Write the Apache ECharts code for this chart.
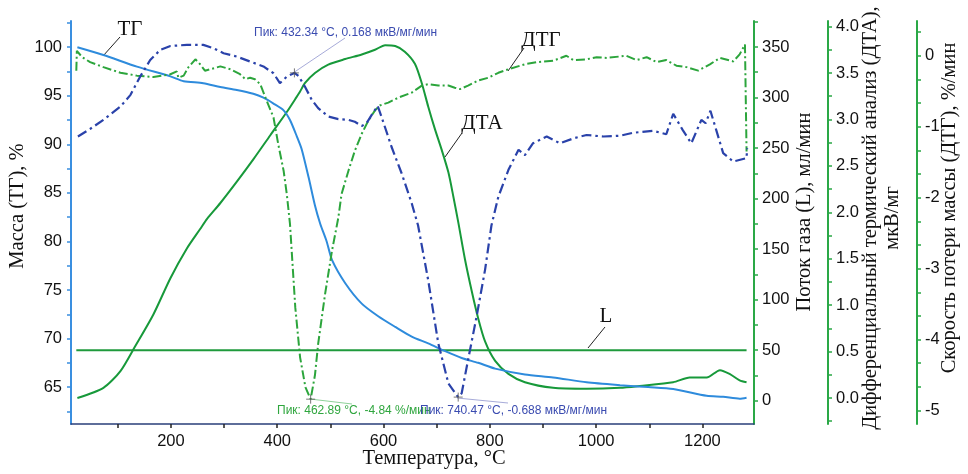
<!DOCTYPE html>
<html>
<head>
<meta charset="utf-8">
<script src="https://cdn.jsdelivr.net/npm/echarts@6.0.0/dist/echarts.min.js"></script>
<style>
html,body{margin:0;padding:0;background:#fff;}
#chart{width:968px;height:474px;}
</style>
</head>
<body>
<div id="chart"></div>
<script>
// ---------- DATA ----------
// ТГ: температура (°C) / масса (%)
var tgT    = [24, 73, 136, 199, 224, 261, 293, 324, 355, 374, 393, 412, 424, 437, 446, 459, 471, 481, 493, 503, 528, 559, 590, 622, 653, 684, 716, 747, 778, 810, 866, 919, 982, 1045, 1098, 1145, 1208, 1239, 1270, 1283];
var tgMass = [100.0, 99.2, 98.0, 97.0, 96.5, 96.3, 95.9, 95.6, 95.2, 94.8, 94.2, 93.5, 92.5, 90.8, 89.5, 86.6, 83.7, 81.8, 80.0, 78.1, 75.7, 73.6, 72.3, 71.2, 70.2, 69.5, 68.7, 68.0, 67.5, 66.9, 66.3, 66.0, 65.5, 65.2, 65.0, 64.8, 64.1, 64.0, 63.8, 63.9];

// ДТА: мкВ/мг
var dtaT   = [24, 73, 105, 133, 167, 199, 230, 255, 268, 293, 324, 355, 387, 418, 434, 443, 452, 471, 496, 528, 559, 584, 603, 622, 640, 659, 672, 684, 697, 709, 722, 731, 741, 753, 766, 778, 791, 810, 835, 866, 919, 982, 1045, 1082, 1145, 1176, 1208, 1233, 1251, 1270, 1283];
var dtaVal = [0.00, 0.11, 0.29, 0.56, 0.90, 1.29, 1.61, 1.82, 1.93, 2.10, 2.33, 2.57, 2.83, 3.08, 3.22, 3.30, 3.39, 3.50, 3.59, 3.65, 3.70, 3.75, 3.80, 3.79, 3.73, 3.60, 3.39, 3.14, 2.89, 2.68, 2.43, 2.18, 1.88, 1.50, 1.15, 0.86, 0.61, 0.40, 0.26, 0.17, 0.11, 0.10, 0.11, 0.13, 0.17, 0.22, 0.22, 0.30, 0.26, 0.19, 0.17];

// ДТГ: %/мин
var dtgT   = [22, 23, 33, 48, 73, 105, 136, 167, 199, 211, 214, 224, 233, 246, 255, 264, 274, 293, 312, 330, 340, 349, 358, 368, 380, 393, 402, 412, 418, 424, 434, 443, 453, 462.89, 471, 477, 490, 503, 515, 521, 534, 546, 559, 571, 584, 593, 609, 628, 653, 672, 684, 703, 722, 734, 744, 759, 778, 797, 816, 835, 866, 888, 919, 944, 957, 982, 1001, 1020, 1045, 1057, 1076, 1095, 1114, 1132, 1151, 1170, 1192, 1214, 1233, 1258, 1270, 1280, 1283];
var dtgVal = [-0.21, 0.07, -0.02, -0.09, -0.16, -0.24, -0.28, -0.30, -0.26, -0.22, -0.31, -0.28, -0.16, -0.05, -0.12, -0.21, -0.19, -0.15, -0.19, -0.26, -0.33, -0.31, -0.33, -0.40, -0.63, -0.87, -1.25, -1.62, -1.95, -2.37, -3.55, -4.25, -4.67, -4.84, -4.50, -4.06, -3.36, -2.75, -2.28, -1.95, -1.62, -1.34, -1.10, -0.92, -0.77, -0.70, -0.66, -0.59, -0.52, -0.42, -0.40, -0.42, -0.42, -0.45, -0.47, -0.42, -0.35, -0.31, -0.24, -0.19, -0.12, -0.09, -0.07, 0.00, -0.06, -0.05, -0.02, -0.03, -0.01, 0.00, -0.06, -0.02, -0.09, -0.06, -0.14, -0.16, -0.21, -0.12, -0.03, -0.08, 0.02, 0.16, -1.35];

// производная ДТА: мкВ/мг/мин
var ddtaT   = [25, 48, 73, 105, 124, 142, 161, 180, 199, 230, 261, 280, 299, 324, 349, 374, 393, 405, 418, 432.34, 440, 452, 465, 477, 496, 515, 534, 546, 559, 568, 580, 589, 596, 615, 634, 653, 665, 684, 703, 722, 740.47, 747, 759, 775, 791, 803, 816, 835, 854, 857, 866, 881, 907, 932, 957, 982, 1014, 1045, 1070, 1107, 1132, 1145, 1163, 1179, 1198, 1206, 1215, 1226, 1239, 1258, 1283, 1284];
var ddtaVal = [0.000, 0.020, 0.044, 0.079, 0.110, 0.158, 0.202, 0.229, 0.239, 0.242, 0.242, 0.233, 0.220, 0.211, 0.198, 0.185, 0.167, 0.141, 0.158, 0.168, 0.160, 0.132, 0.097, 0.075, 0.053, 0.046, 0.044, 0.039, 0.028, 0.035, 0.062, 0.081, 0.053, -0.027, -0.097, -0.176, -0.235, -0.379, -0.546, -0.652, -0.688, -0.678, -0.590, -0.476, -0.352, -0.235, -0.159, -0.088, -0.035, -0.030, -0.049, -0.018, 0.000, -0.018, -0.005, 0.004, 0.000, 0.002, 0.010, 0.015, 0.006, 0.060, 0.017, -0.018, 0.044, 0.035, 0.068, 0.017, -0.044, -0.066, -0.057, -0.031];

// Поток газа L: мл/мин
var gasT   = [22, 1283];
var gasVal = [50, 50];

// Пики
var peakDdtaMaxT = 432.34, peakDdtaMaxV = 0.168;
var peakDtgT = 462.89, peakDtgV = -4.84;
var peakDdtaMinT = 740.47, peakDdtaMinV = -0.688;

// Деления осей
var xLabels   = [200, 400, 600, 800, 1000, 1200];
var xTicks    = [100, 200, 300, 400, 500, 600, 700, 800, 900, 1000, 1100, 1200];
var massLabels = [65, 70, 75, 80, 85, 90, 95, 100];
var massTicks  = [62.5, 65, 67.5, 70, 72.5, 75, 77.5, 80, 82.5, 85, 87.5, 90, 92.5, 95, 97.5, 100, 102.5];
var gasLabels = [0, 50, 100, 150, 200, 250, 300, 350];
var gasTicks  = [0, 25, 50, 75, 100, 125, 150, 175, 200, 225, 250, 275, 300, 325, 350, 375];
var dtaLabels = [0, 0.5, 1.0, 1.5, 2.0, 2.5, 3.0, 3.5, 4.0];
var dtaTicks  = [-0.25, 0, 0.25, 0.5, 0.75, 1.0, 1.25, 1.5, 1.75, 2.0, 2.25, 2.5, 2.75, 3.0, 3.25, 3.5, 3.75, 4.0];
var dtgLabels = [-5, -4, -3, -2, -1, 0];
var dtgTicks  = [-5, -4.6667, -4.3333, -4, -3.6667, -3.3333, -3, -2.6667, -2.3333, -2, -1.6667, -1.3333, -1, -0.6667, -0.3333, 0, 0.3333];

function zip(a, b) { return a.map(function (v, i) { return [v, b[i]]; }); }

var SANS = "'Liberation Sans', Arial, sans-serif";
var SERIF = "'Liberation Serif', 'Times New Roman', serif";
var GREEN_AX = '#2aa846';
var BLUE_AX = '#3a8fe0';
var NAME_FONT = '20.5px ' + SERIF;

function rightAxis(offset, min, max, ticks, labels, fmt) {
  return {
    type: 'value', position: 'right', offset: offset, min: min, max: max,
    splitLine: { show: false },
    axisLine: { show: true, onZero: false, lineStyle: { color: GREEN_AX, width: 2 } },
    axisTick: { show: true, inside: false, length: 4, customValues: ticks, lineStyle: { color: GREEN_AX, width: 1.5 } },
    axisLabel: { customValues: labels, margin: 8, color: '#111', fontFamily: SANS, fontSize: 16.5, formatter: fmt }
  };
}

var chart = echarts.init(document.getElementById('chart'), null, { renderer: 'canvas' });

var plus = 'path://M0,5L10,5M5,0L5,10';

var option = {
  backgroundColor: '#ffffff',
  animation: false,
  grid: { left: 71, right: 214, top: 21, bottom: 50, containLabel: false },
  xAxis: {
    type: 'value', min: 12, max: 1297,
    splitLine: { show: false },
    axisLine: { show: true, onZero: false, lineStyle: { color: '#2a3f7a', width: 1.5 } },
    axisTick: { show: true, inside: false, length: 4, customValues: xTicks, lineStyle: { color: '#222', width: 1.5 } },
    axisLabel: { customValues: xLabels, margin: 9, color: '#111', fontFamily: SANS, fontSize: 16.5, formatter: function (v) { return String(v); } }
  },
  yAxis: [
    {
      type: 'value', position: 'left', min: 61.2, max: 102.7,
      splitLine: { show: false },
      axisLine: { show: true, onZero: false, lineStyle: { color: BLUE_AX, width: 2 } },
      axisTick: { show: true, inside: false, length: 4, customValues: massTicks, lineStyle: { color: BLUE_AX, width: 1.5 } },
      axisLabel: { customValues: massLabels, margin: 9, color: '#111', fontFamily: SANS, fontSize: 16.5, formatter: function (v) { return String(v); } }
    },
    rightAxis(0, -23, 375.7, gasTicks, gasLabels, function (v) { return String(v); }),
    rightAxis(74, -0.28, 4.06, dtaTicks, dtaLabels, function (v) { return v.toFixed(1); }),
    rightAxis(163, -5.19, 0.49, dtgTicks, dtgLabels, function (v) { return String(Math.round(v)); }),
    { type: 'value', show: false, min: -0.759, max: 0.305 }
  ],
  series: [
    {
      name: 'L', type: 'line', yAxisIndex: 1, data: zip(gasT, gasVal), symbol: 'none',
      lineStyle: { color: '#1f9a3c', width: 2 }, z: 2
    },
    {
      name: 'ДТА', type: 'line', yAxisIndex: 2, data: zip(dtaT, dtaVal), symbol: 'none',
      smooth: 0.25,
      lineStyle: { color: '#17993a', width: 2 }, z: 3
    },
    {
      name: 'ТГ', type: 'line', yAxisIndex: 0, data: zip(tgT, tgMass), symbol: 'none',
      smooth: 0.25,
      lineStyle: { color: '#2e8bdc', width: 2 }, z: 4
    },
    {
      name: 'ДТГ', type: 'line', yAxisIndex: 3, data: zip(dtgT, dtgVal), symbol: 'none',
      lineStyle: { color: '#2ca53c', width: 2, type: [9, 3, 2, 3] }, z: 5
    },
    {
      name: 'ДДТА', type: 'line', yAxisIndex: 4, data: zip(ddtaT, ddtaVal), symbol: 'none',
      lineStyle: { color: '#2a42aa', width: 2.2, type: [10, 4, 2.5, 4] }, z: 6
    },
    {
      name: 'peaksBlue', type: 'scatter', yAxisIndex: 4,
      data: [[peakDdtaMaxT, peakDdtaMaxV], [peakDdtaMinT, peakDdtaMinV]],
      symbol: plus, symbolSize: 9,
      itemStyle: { color: 'rgba(0,0,0,0)', borderColor: '#555', borderWidth: 1 }, z: 8
    },
    {
      name: 'peakGreen', type: 'scatter', yAxisIndex: 3,
      data: [[peakDtgT, peakDtgV]],
      symbol: plus, symbolSize: 9,
      itemStyle: { color: 'rgba(0,0,0,0)', borderColor: '#555', borderWidth: 1 }, z: 8
    }
  ],
  graphic: [
    // curve labels
    { type: 'text', x: 130, y: 29, style: { text: 'ТГ', font: '21px ' + SERIF, fill: '#111', align: 'center', verticalAlign: 'middle' } },
    { type: 'text', x: 541, y: 40, style: { text: 'ДТГ', font: '21px ' + SERIF, fill: '#111', align: 'center', verticalAlign: 'middle' } },
    { type: 'text', x: 482, y: 123, style: { text: 'ДТА', font: '21px ' + SERIF, fill: '#111', align: 'center', verticalAlign: 'middle' } },
    { type: 'text', x: 606, y: 316, style: { text: 'L', font: '21px ' + SERIF, fill: '#111', align: 'center', verticalAlign: 'middle' } },
    { type: 'line', shape: { x1: 120, y1: 37, x2: 103, y2: 56 }, style: { stroke: '#222', lineWidth: 1 } },
    { type: 'line', shape: { x1: 524, y1: 48, x2: 508, y2: 71 }, style: { stroke: '#222', lineWidth: 1 } },
    { type: 'line', shape: { x1: 462, y1: 133, x2: 445, y2: 157 }, style: { stroke: '#222', lineWidth: 1 } },
    { type: 'line', shape: { x1: 605, y1: 327, x2: 588, y2: 348 }, style: { stroke: '#222', lineWidth: 1 } },
    // peak annotation lines
    { type: 'line', shape: { x1: 293, y1: 73, x2: 345, y2: 38 }, style: { stroke: '#a7abd9', lineWidth: 1 } },
    { type: 'line', shape: { x1: 310, y1: 399, x2: 352, y2: 404 }, style: { stroke: '#8fd29a', lineWidth: 1 } },
    { type: 'line', shape: { x1: 457, y1: 398, x2: 508, y2: 403 }, style: { stroke: '#a7abd9', lineWidth: 1 } },
    // peak labels
    { type: 'text', x: 254, y: 33, style: { text: 'Пик: 432.34 °C, 0.168 мкВ/мг/мин', font: '12px ' + SANS, fill: '#3a4bb0', align: 'left', verticalAlign: 'middle' } },
    { type: 'text', x: 277, y: 411, style: { text: 'Пик: 462.89 °C, -4.84 %/мин', font: '12px ' + SANS, fill: '#2fa63e', align: 'left', verticalAlign: 'middle' } },
    { type: 'text', x: 420, y: 411, style: { text: 'Пик: 740.47 °C, -0.688 мкВ/мг/мин', font: '12px ' + SANS, fill: '#3a4bb0', align: 'left', verticalAlign: 'middle' } },
    // axis names
    { type: 'text', x: 18, y: 206, rotation: Math.PI / 2, style: { text: 'Масса (ТГ), %', font: NAME_FONT, fill: '#111', align: 'center', verticalAlign: 'middle' } },
    { type: 'text', x: 434, y: 459, style: { text: 'Температура, °C', font: NAME_FONT, fill: '#111', align: 'center', verticalAlign: 'middle' } },
    { type: 'text', x: 805, y: 212, rotation: Math.PI / 2, style: { text: 'Поток газа (L), мл/мин', font: NAME_FONT, fill: '#111', align: 'center', verticalAlign: 'middle' } },
    { type: 'text', x: 871, y: 218, rotation: Math.PI / 2, style: { text: 'Дифференциальный термический анализ (ДТА),', font: NAME_FONT, fill: '#111', align: 'center', verticalAlign: 'middle' } },
    { type: 'text', x: 893, y: 218, rotation: Math.PI / 2, style: { text: 'мкВ/мг', font: NAME_FONT, fill: '#111', align: 'center', verticalAlign: 'middle' } },
    { type: 'text', x: 950, y: 208, rotation: Math.PI / 2, style: { text: 'Скорость потери массы (ДТГ), %/мин', font: NAME_FONT, fill: '#111', align: 'center', verticalAlign: 'middle' } }
  ]
};

chart.setOption(option);
</script>
</body>
</html>
